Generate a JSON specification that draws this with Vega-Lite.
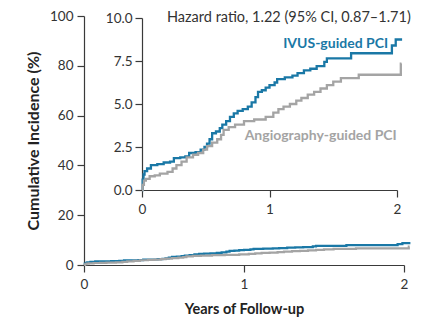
{
  "$schema": "https://vega.github.io/schema/vega-lite/v6.json",
  "width": 320,
  "height": 249,
  "autosize": {"type": "none"},
  "padding": {"left": 84, "top": 16, "right": 26, "bottom": 56},
  "config": {
    "view": {"stroke": null},
    "font": "Lato",
    "axis": {"grid": false, "labelFlush": false, "domainColor": "#3a3a3a", "tickColor": "#3a3a3a", "labelColor": "#333333", "labelFont": "Lato", "labelFontSize": 13.5, "tickSize": 7, "domainWidth": 1.2, "tickWidth": 1.2, "titleFont": "Lato", "titleFontWeight": "bold", "titleFontSize": 14.5, "titleColor": "#222222"}
  },
  "datasets": {
    "curves": [
      {"group": "IVUS", "t": 0, "v": 0},
      {"group": "IVUS", "t": 0.005, "v": 0.6},
      {"group": "IVUS", "t": 0.012, "v": 0.9},
      {"group": "IVUS", "t": 0.02, "v": 1.1},
      {"group": "IVUS", "t": 0.04, "v": 1.25},
      {"group": "IVUS", "t": 0.07, "v": 1.45},
      {"group": "IVUS", "t": 0.12, "v": 1.5},
      {"group": "IVUS", "t": 0.17, "v": 1.6},
      {"group": "IVUS", "t": 0.22, "v": 1.65},
      {"group": "IVUS", "t": 0.25, "v": 1.85},
      {"group": "IVUS", "t": 0.3, "v": 1.9},
      {"group": "IVUS", "t": 0.34, "v": 1.95},
      {"group": "IVUS", "t": 0.37, "v": 2.15},
      {"group": "IVUS", "t": 0.42, "v": 2.2},
      {"group": "IVUS", "t": 0.46, "v": 2.35},
      {"group": "IVUS", "t": 0.49, "v": 2.5},
      {"group": "IVUS", "t": 0.51, "v": 2.7},
      {"group": "IVUS", "t": 0.53, "v": 2.95},
      {"group": "IVUS", "t": 0.55, "v": 3.3},
      {"group": "IVUS", "t": 0.58, "v": 3.4},
      {"group": "IVUS", "t": 0.61, "v": 3.6},
      {"group": "IVUS", "t": 0.63, "v": 3.8},
      {"group": "IVUS", "t": 0.66, "v": 4.0},
      {"group": "IVUS", "t": 0.69, "v": 4.25},
      {"group": "IVUS", "t": 0.72, "v": 4.45},
      {"group": "IVUS", "t": 0.75, "v": 4.6},
      {"group": "IVUS", "t": 0.79, "v": 4.7},
      {"group": "IVUS", "t": 0.83, "v": 4.85},
      {"group": "IVUS", "t": 0.86, "v": 5.1},
      {"group": "IVUS", "t": 0.89, "v": 5.4},
      {"group": "IVUS", "t": 0.91, "v": 5.7},
      {"group": "IVUS", "t": 0.94, "v": 5.8},
      {"group": "IVUS", "t": 0.97, "v": 5.95},
      {"group": "IVUS", "t": 1.0, "v": 6.1},
      {"group": "IVUS", "t": 1.04, "v": 6.25},
      {"group": "IVUS", "t": 1.06, "v": 6.45},
      {"group": "IVUS", "t": 1.12, "v": 6.55},
      {"group": "IVUS", "t": 1.18, "v": 6.65},
      {"group": "IVUS", "t": 1.22, "v": 6.8},
      {"group": "IVUS", "t": 1.27, "v": 6.95},
      {"group": "IVUS", "t": 1.32, "v": 7.05},
      {"group": "IVUS", "t": 1.37, "v": 7.2},
      {"group": "IVUS", "t": 1.43, "v": 7.45},
      {"group": "IVUS", "t": 1.45, "v": 7.65},
      {"group": "IVUS", "t": 1.64, "v": 7.95},
      {"group": "IVUS", "t": 1.96, "v": 8.4},
      {"group": "IVUS", "t": 1.99, "v": 8.75},
      {"group": "IVUS", "t": 2.04, "v": 8.75},
      {"group": "Angio", "t": 0, "v": 0},
      {"group": "Angio", "t": 0.005, "v": 0.3},
      {"group": "Angio", "t": 0.015, "v": 0.55},
      {"group": "Angio", "t": 0.03, "v": 0.65},
      {"group": "Angio", "t": 0.06, "v": 0.8},
      {"group": "Angio", "t": 0.1, "v": 0.85},
      {"group": "Angio", "t": 0.14, "v": 0.95},
      {"group": "Angio", "t": 0.2, "v": 1.05},
      {"group": "Angio", "t": 0.24, "v": 1.25},
      {"group": "Angio", "t": 0.27, "v": 1.45},
      {"group": "Angio", "t": 0.31, "v": 1.65},
      {"group": "Angio", "t": 0.35, "v": 1.9},
      {"group": "Angio", "t": 0.4, "v": 2.05},
      {"group": "Angio", "t": 0.44, "v": 2.15},
      {"group": "Angio", "t": 0.48, "v": 2.35},
      {"group": "Angio", "t": 0.51, "v": 2.55},
      {"group": "Angio", "t": 0.55, "v": 2.75},
      {"group": "Angio", "t": 0.59, "v": 2.95},
      {"group": "Angio", "t": 0.62, "v": 3.2},
      {"group": "Angio", "t": 0.64, "v": 3.5},
      {"group": "Angio", "t": 0.68, "v": 3.65},
      {"group": "Angio", "t": 0.73, "v": 3.8},
      {"group": "Angio", "t": 0.8, "v": 4.0},
      {"group": "Angio", "t": 0.88, "v": 4.1},
      {"group": "Angio", "t": 0.97, "v": 4.25},
      {"group": "Angio", "t": 1.03, "v": 4.5},
      {"group": "Angio", "t": 1.07, "v": 4.7},
      {"group": "Angio", "t": 1.11, "v": 4.85},
      {"group": "Angio", "t": 1.16, "v": 5.0},
      {"group": "Angio", "t": 1.21, "v": 5.2},
      {"group": "Angio", "t": 1.25, "v": 5.35},
      {"group": "Angio", "t": 1.3, "v": 5.55},
      {"group": "Angio", "t": 1.35, "v": 5.7},
      {"group": "Angio", "t": 1.4, "v": 5.9},
      {"group": "Angio", "t": 1.45, "v": 6.1},
      {"group": "Angio", "t": 1.5, "v": 6.3},
      {"group": "Angio", "t": 1.56, "v": 6.5},
      {"group": "Angio", "t": 1.7, "v": 6.7},
      {"group": "Angio", "t": 2.03, "v": 7.35},
      {"group": "Angio", "t": 2.035, "v": 7.35}
    ],
    "labels": [
      {"text": "Hazard ratio, 1.22 (95% CI, 0.87\u20131.71)", "t": 0.196, "v": 10.0, "kind": "hr"},
      {"text": "IVUS-guided PCI", "t": 1.93, "v": 8.5, "kind": "ivus"},
      {"text": "Angiography-guided PCI", "t": 0.805, "v": 3.15, "kind": "angio"}
    ]
  },
  "layer": [
    {
      "data": {"name": "curves"},
      "mark": {"type": "line", "interpolate": "step-after", "strokeWidth": 2.2, "clip": false},
      "encoding": {
        "x": {"field": "t", "type": "quantitative", "scale": {"domain": [0, 2], "nice": false}, "axis": {"values": [0, 1, 2], "format": ".0f", "title": "Years of Follow-up", "orient": "bottom", "labelPadding": 5, "titlePadding": 12}},
        "y": {"field": "v", "type": "quantitative", "scale": {"domain": [0, 100], "nice": false}, "axis": {"values": [0, 20, 40, 60, 80, 100], "title": "Cumulative Incidence (%)", "titleFontSize": 16, "orient": "left", "labelPadding": 4, "titlePadding": 8}},
        "color": {"field": "group", "type": "nominal", "scale": {"domain": ["IVUS", "Angio"], "range": ["#1a78a6", "#a4a4a4"]}, "legend": null},
        "order": {"field": "t", "type": "quantitative"}
      }
    },
    {
      "layer": [
        {
          "data": {"name": "curves"},
          "mark": {"type": "line", "interpolate": "step-after", "strokeWidth": 2.3, "clip": false},
          "encoding": {
            "x": {"field": "t", "type": "quantitative", "scale": {"domain": [0, 2], "nice": false, "range": [58, 313]}, "axis": {"values": [0, 1, 2], "format": ".0f", "title": null, "orient": "bottom", "offset": -75, "labelPadding": 5}},
            "y": {"field": "v", "type": "quantitative", "scale": {"domain": [0, 10], "nice": false, "range": [174, 2]}, "axis": {"values": [0, 2.5, 5, 7.5, 10], "format": ".1f", "title": null, "orient": "left", "offset": -58, "labelPadding": 3}},
            "color": {"field": "group", "type": "nominal", "scale": {"domain": ["IVUS", "Angio"], "range": ["#1a78a6", "#a4a4a4"]}, "legend": null},
            "order": {"field": "t", "type": "quantitative"}
          }
        },
        {
          "data": {"name": "labels"},
          "transform": [{"filter": "datum.kind === 'hr'"}],
          "mark": {"type": "text", "align": "left", "baseline": "middle", "fontSize": 14.5, "color": "#333333", "font": "Lato"},
          "encoding": {
            "x": {"field": "t", "type": "quantitative"},
            "y": {"field": "v", "type": "quantitative"},
            "text": {"field": "text"}
          }
        },
        {
          "data": {"name": "labels"},
          "transform": [{"filter": "datum.kind === 'ivus'"}],
          "mark": {"type": "text", "align": "right", "baseline": "middle", "fontSize": 14, "fontWeight": "bold", "color": "#1a78a6", "font": "Lato"},
          "encoding": {
            "x": {"field": "t", "type": "quantitative"},
            "y": {"field": "v", "type": "quantitative"},
            "text": {"field": "text"}
          }
        },
        {
          "data": {"name": "labels"},
          "transform": [{"filter": "datum.kind === 'angio'"}],
          "mark": {"type": "text", "align": "left", "baseline": "middle", "fontSize": 14, "fontWeight": "bold", "color": "#a4a4a4", "font": "Lato"},
          "encoding": {
            "x": {"field": "t", "type": "quantitative"},
            "y": {"field": "v", "type": "quantitative"},
            "text": {"field": "text"}
          }
        }
      ]
    }
  ],
  "resolve": {"scale": {"x": "independent", "y": "independent", "color": "shared"}, "axis": {"x": "independent", "y": "independent"}}
}
